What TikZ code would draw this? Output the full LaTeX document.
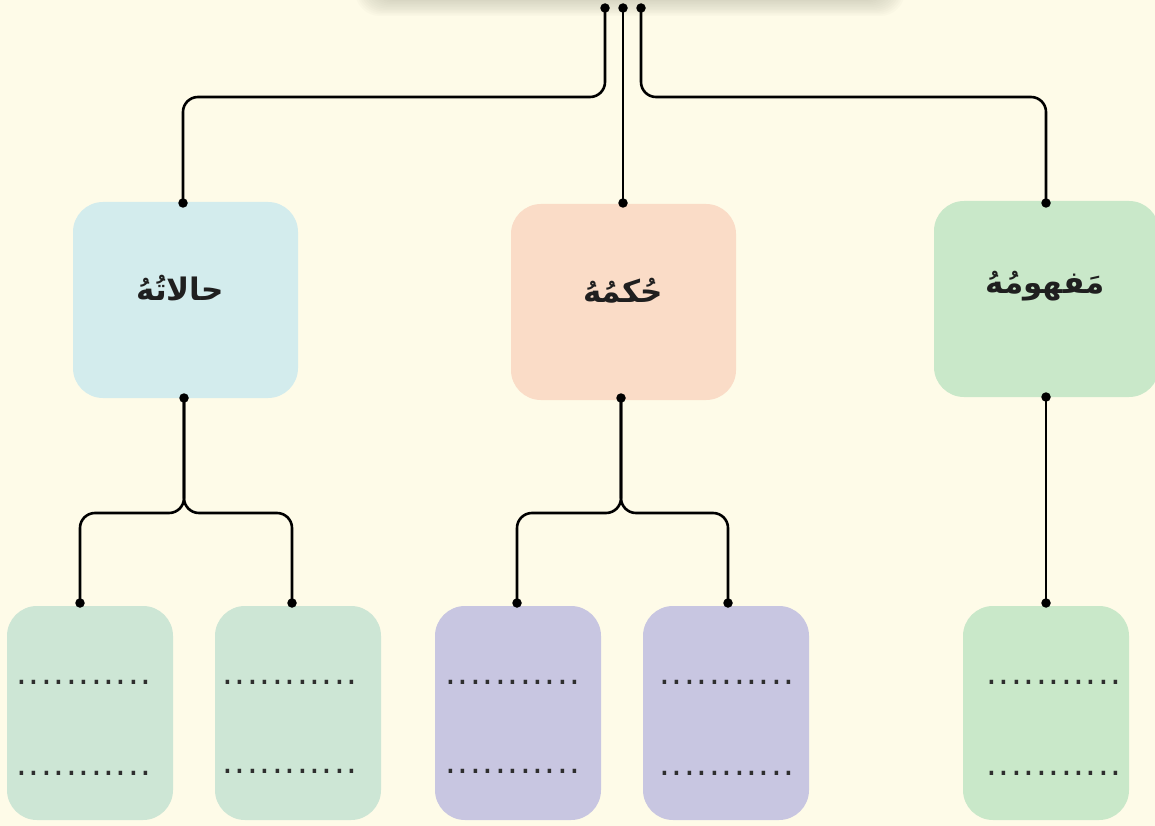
\documentclass[tikz,border=0pt]{standalone}
\usepackage{fontspec}
\newfontfamily\arabicfont[Script=Arabic]{DejaVu Sans}
\newfontfamily\dotfont{DejaVu Sans}
\TeXXeTstate=1
\usetikzlibrary{calc}
\definecolor{bg}{HTML}{FEFBE8}
\definecolor{bluebox}{HTML}{D3ECED}
\definecolor{peachbox}{HTML}{FADCC7}
\definecolor{greenbox}{HTML}{C9E8C9}
\definecolor{leafgreen}{HTML}{CDE6D5}
\definecolor{leafpurple}{HTML}{C8C6E1}
\definecolor{dotgray}{HTML}{2E2E2E}
\definecolor{shadowgray}{HTML}{8E8E7A}
\newcommand\onedot{\makebox[12.4pt]{.}}
\newcommand\leaderdots{\onedot\onedot\onedot\onedot\onedot\onedot\onedot\onedot\onedot\onedot\onedot}
\tikzset{
  midbox/.style={rounded corners=30pt, minimum width=225pt, minimum height=196pt, inner sep=0pt},
  leafbox/.style={rounded corners=30pt, minimum width=166pt, minimum height=214pt, inner sep=0pt},
  label/.style={font=\arabicfont\bfseries\fontsize{31}{36}\selectfont, text=black!88, inner sep=0pt},
  conn/.style={line width=2.6pt, rounded corners=15pt},
  pin/.style={circle, fill=black, inner sep=0pt, minimum size=9.5pt},
  dotrow/.style={font=\dotfont\fontsize{34}{40}\selectfont, text=dotgray, anchor=base, inner sep=0pt}
}
\begin{document}
\begin{tikzpicture}[x=1pt,y=-1pt]
\useasboundingbox (0,0) rectangle (1155,826);
\fill[bg] (0,0) rectangle (1155,826);
% shadow of the top box (box itself lies above the picture)
\foreach \s in {0,1.5,...,15}{
  \fill[shadowgray, opacity=0.03, rounded corners=25pt] (355+\s,-60) rectangle (905-\s,16-\s);
}
% middle boxes
\node[midbox, fill=bluebox] (a) at (185.5,300) {};
\node[midbox, fill=peachbox] (b) at (623.5,302) {};
\node[midbox, fill=greenbox] (c) at (1046.5,299) {};
\node[label] (la) at (180,288) {\arabicfont\beginR حالاتُهُ\endR};
\node[label] (lb) at (623,291) {\arabicfont\beginR حُكمُهُ\endR};
\node[label] (lc) at (1045,286) {\arabicfont\beginR مَفهومُهُ\endR};
% leaf boxes
\node[leafbox, fill=leafgreen] (d1) at (90,713) {};
\node[leafbox, fill=leafgreen] (d2) at (298,713) {};
\node[leafbox, fill=leafpurple] (d3) at (518,713) {};
\node[leafbox, fill=leafpurple] (d4) at (726,713) {};
\node[leafbox, fill=greenbox] (d5) at (1046,713) {};
% dot leaders
\node[dotrow] (e1a) at (84,684) {\leaderdots};
\node[dotrow] (e1b) at (84,775) {\leaderdots};
\node[dotrow] (e2a) at (290,684) {\leaderdots};
\node[dotrow] (e2b) at (290,773) {\leaderdots};
\node[dotrow] (e3a) at (513,684) {\leaderdots};
\node[dotrow] (e3b) at (513,773) {\leaderdots};
\node[dotrow] (e4a) at (727,684) {\leaderdots};
\node[dotrow] (e4b) at (727,775) {\leaderdots};
\node[dotrow] (e5a) at (1054,684) {\leaderdots};
\node[dotrow] (e5b) at (1054,775) {\leaderdots};
% connector end points
\coordinate (t1) at (605,8);
\coordinate (t2) at (623,8);
\coordinate (t3) at (641,8);
\coordinate (pa) at (183,203);
\coordinate (pb) at (623,203);
\coordinate (pc) at (1046,203);
\coordinate (qa) at (184,398);
\coordinate (qb) at (621,398);
\coordinate (qc) at (1046,397);
\coordinate (l1) at (80,603);
\coordinate (l2) at (292,603);
\coordinate (l3) at (517,603);
\coordinate (l4) at (728,603);
\coordinate (l5) at (1046,603);
% connectors
\draw[conn] (t1) -- (605,97) -| (pa);
\draw[conn] (t2) -- (pb);
\draw[conn] (t3) -- (641,97) -| (pc);
\draw[conn] (qa) -- (184,513) -| (l1);
\draw[conn] (qa) -- (184,513) -| (l2);
\draw[conn] (qb) -- (621,513) -| (l3);
\draw[conn] (qb) -- (621,513) -| (l4);
\draw[conn] (qc) -- (l5);
% pins
\foreach \p in {t1,t2,t3,pa,pb,pc,qa,qb,qc,l1,l2,l3,l4,l5}{
  \node[pin] at (\p) {};
}
\end{tikzpicture}
\end{document}
